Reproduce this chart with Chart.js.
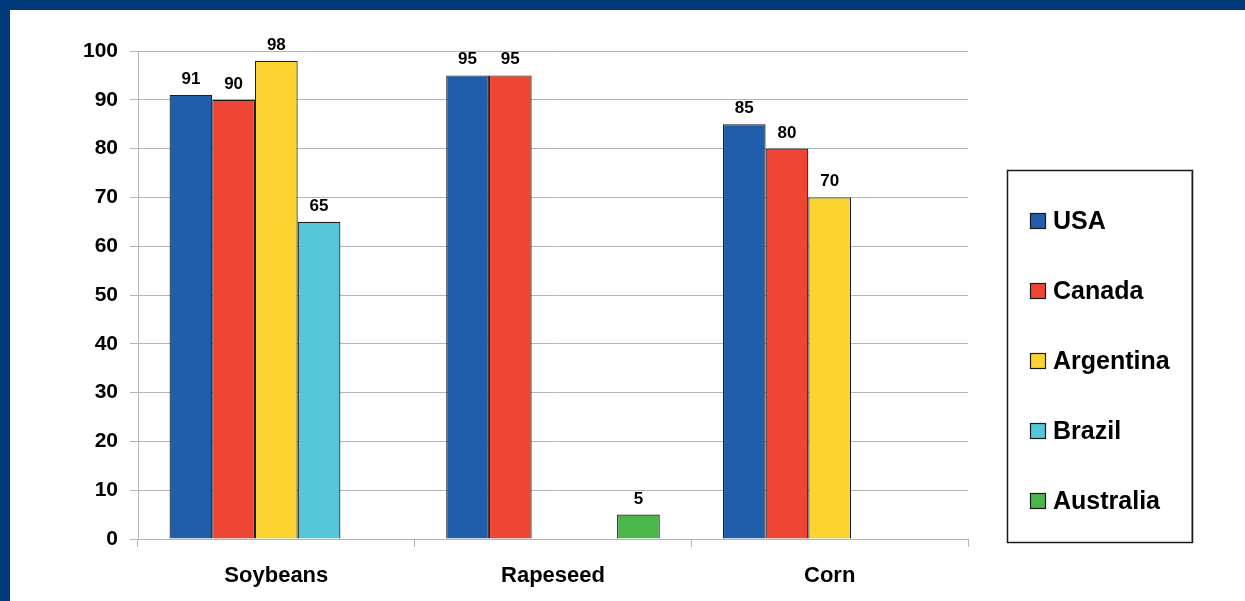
<!DOCTYPE html>
<html>
<head>
<meta charset="utf-8">
<script src="https://cdn.jsdelivr.net/npm/chart.js@4.4.1/dist/chart.umd.min.js"></script>
<style>
  html, body { margin: 0; padding: 0; background: #00397A; width: 1245px; height: 601px; overflow: hidden; }
  #wrap { position: absolute; left: 10px; top: 10px; width: 1235px; height: 591px; background: #ffffff; }
  canvas { display: block; }
</style>
</head>
<body>
<div id="wrap"><canvas id="c" width="1235" height="591"></canvas></div>
<script>
const categories = ["Soybeans", "Rapeseed", "Corn"];
const seriesNames = ["USA", "Canada", "Argentina", "Brazil", "Australia"];
const usa = [91, 95, 85];
const canada = [90, 95, 80];
const argentina = [98, null, 70];
const brazil = [65, null, null];
const australia = [null, 5, null];
const yTicks = [0, 10, 20, 30, 40, 50, 60, 70, 80, 90, 100];

const colors = ["#205EAB", "#EE4535", "#FDD32F", "#56C6DA", "#4BB64A"];
const values = [usa, canada, argentina, brazil, australia];
const FONT = "'Liberation Sans', Arial, Helvetica, sans-serif";
const GRID = "#B2B6B8";

const valueLabels = {
  id: "valueLabels",
  afterDatasetsDraw(chart) {
    const ctx = chart.ctx;
    ctx.save();
    ctx.font = "bold 17px " + FONT;
    ctx.fillStyle = "#000";
    ctx.textAlign = "center";
    ctx.textBaseline = "alphabetic";
    chart.data.datasets.forEach((ds, i) => {
      const meta = chart.getDatasetMeta(i);
      meta.data.forEach((bar, j) => {
        const v = ds.data[j];
        if (v === null || v === undefined) return;
        ctx.fillText(String(v), bar.x, bar.y - 11);
      });
    });
    ctx.restore();
  }
};

const boxLegend = {
  id: "boxLegend",
  afterDraw(chart) {
    const ctx = chart.ctx;
    const bx = 997, by = 160, bw = 185, bh = 372;
    ctx.save();
    ctx.fillStyle = "#fff";
    ctx.fillRect(bx, by, bw, bh);
    ctx.strokeStyle = "#1a1a1a";
    ctx.lineWidth = 1.5;
    ctx.strokeRect(bx + 0.5, by + 0.5, bw, bh);
    ctx.strokeStyle = "#8a8a8a";
    ctx.lineWidth = 1;
    ctx.beginPath();
    ctx.moveTo(bx + bw - 0.5, by + 2);
    ctx.lineTo(bx + bw - 0.5, by + bh);
    ctx.stroke();
    ctx.font = "bold 25px " + FONT;
    ctx.textBaseline = "middle";
    ctx.textAlign = "left";
    chart.data.datasets.forEach((ds, i) => {
      const cy = 211 + i * 70;
      ctx.fillStyle = ds.backgroundColor;
      ctx.fillRect(1020, cy - 8, 16, 16);
      ctx.strokeStyle = "#1a1a1a";
      ctx.lineWidth = 1.2;
      ctx.strokeRect(1020.5, cy - 7.5, 15, 15);
      ctx.fillStyle = "#000";
      ctx.fillText(ds.label, 1043, cy + 1);
    });
    ctx.restore();
  }
};

new Chart(document.getElementById("c"), {
  type: "bar",
  data: {
    labels: categories,
    datasets: seriesNames.map((name, i) => ({
      label: name,
      data: values[i],
      backgroundColor: colors[i],
      borderColor: "#1e1e1e",
      borderWidth: 1.2,
      barPercentage: 1.0,
      categoryPercentage: 0.772
    }))
  },
  options: {
    responsive: false,
    animation: false,
    devicePixelRatio: 1,
    layout: { padding: { top: 41, right: 277, bottom: 0, left: 0 } },
    plugins: { legend: { display: false }, tooltip: { enabled: false } },
    scales: {
      x: {
        grid: { display: true, drawOnChartArea: false, drawTicks: true, tickLength: 8, color: GRID, offset: true },
        border: { display: true, color: GRID, width: 1 },
        ticks: { color: "#000", font: { family: FONT, size: 22, weight: "bold" }, padding: 16 },
        afterFit(scale) { scale.height = 62; }
      },
      y: {
        min: 0,
        max: 100,
        afterBuildTicks(scale) { scale.ticks = yTicks.map(v => ({ value: v })); },
        grid: { display: true, drawOnChartArea: true, drawTicks: true, tickLength: 8, color: GRID, lineWidth: 1 },
        border: { display: true, color: GRID, width: 1 },
        ticks: { color: "#000", font: { family: FONT, size: 21, weight: "bold" }, padding: 12 },
        afterFit(scale) { scale.width = 128; }
      }
    }
  },
  plugins: [valueLabels, boxLegend]
});
</script>
</body>
</html>
